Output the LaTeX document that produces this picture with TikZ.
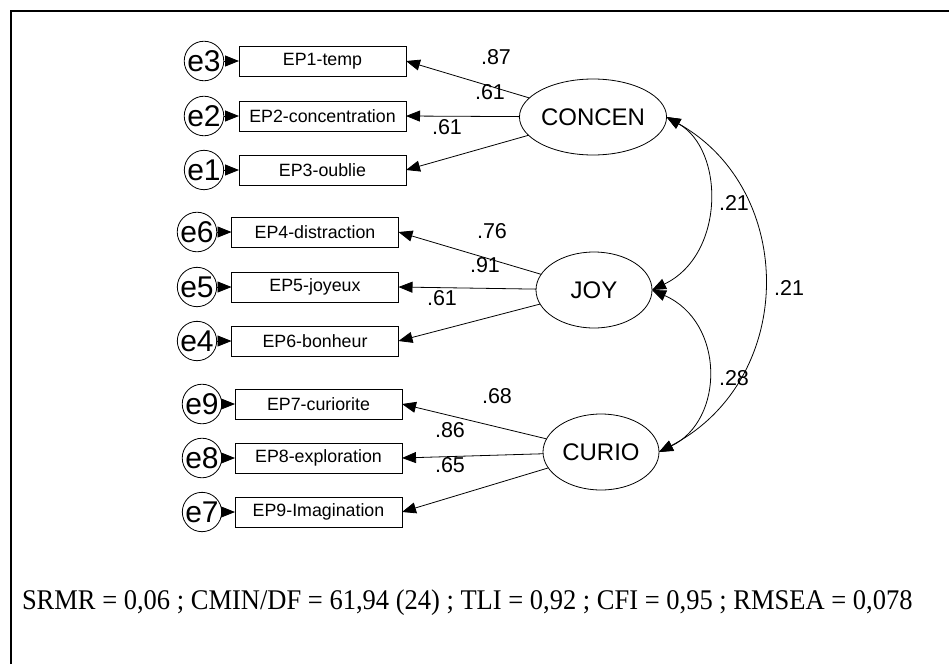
\documentclass[tikz,border=0pt]{standalone}
\usepackage{fontspec}
\setmainfont[FakeStretch=0.93]{Liberation Serif}
\newfontfamily\arialf{Liberation Sans}
\usetikzlibrary{shapes.geometric,arrows.meta}
\begin{document}
\begin{tikzpicture}[x=1pt,y=-1pt,
  every node/.style={inner sep=0pt, outer sep=0pt},
  obs/.style={draw, line width=0.8pt, minimum width=167pt, minimum height=30pt, font=\arialf\fontsize{17.8}{20}\selectfont},
  err/.style={draw, circle, line width=0.8pt, minimum size=38pt, font=\arialf\fontsize{30}{32}\selectfont},
  lat/.style={draw, ellipse, line width=0.8pt, minimum width=116pt, minimum height=76pt, font=\arialf\fontsize{24}{28}\selectfont},
  coef/.style={font=\arialf\fontsize{21.5}{24}\selectfont},
  arr/.style={-{Triangle[length=14pt,width=11pt]}, line width=0.8pt},
  dbl/.style={{Triangle[length=14pt,width=11pt]}-{Triangle[length=14pt,width=11pt]}, line width=0.8pt}
]
\useasboundingbox (0,0) rectangle (949,664);
\draw[line width=2.5pt] (11,664) -- (11,11) -- (949,11);

% observed boxes
\node[obs] (ep1) at (322.5,61) {EP1-temp};
\node[obs] (ep2) at (322.5,116) {EP2-concentration};
\node[obs] (ep3) at (322.5,170) {EP3-oublie};
\node[obs] (ep4) at (315,232) {EP4-distraction};
\node[obs] (ep5) at (315,287) {EP5-joyeux};
\node[obs] (ep6) at (315,341) {EP6-bonheur};
\node[obs] (ep7) at (318.5,404) {EP7-curiorite};
\node[obs] (ep8) at (318.5,458) {EP8-exploration};
\node[obs] (ep9) at (318.5,512) {EP9-Imagination};

% errors
\node[err] (e3) at (204,61) {e3};
\node[err] (e2) at (204,116) {e2};
\node[err] (e1) at (204,170) {e1};
\node[err] (e6) at (197,232) {e6};
\node[err] (e5) at (197,287) {e5};
\node[err] (e4) at (197,341) {e4};
\node[err] (e9) at (202,404) {e9};
\node[err] (e8) at (202,458) {e8};
\node[err] (e7) at (202,512) {e7};

\draw[arr] (e3) -- (ep1);
\draw[arr] (e2) -- (ep2);
\draw[arr] (e1) -- (ep3);
\draw[arr] (e6) -- (ep4);
\draw[arr] (e5) -- (ep5);
\draw[arr] (e4) -- (ep6);
\draw[arr] (e9) -- (ep7);
\draw[arr] (e8) -- (ep8);
\draw[arr] (e7) -- (ep9);

% latent
\node[lat] (concen) at (593,117) {CONCEN};
\node[lat] (joy) at (594,290) {JOY};
\node[lat] (curio) at (601,452) {CURIO};

\draw[arr] (concen) -- (ep1.east);
\draw[arr] (concen) -- (ep2.east);
\draw[arr] (concen) -- (ep3.east);
\draw[arr] (joy) -- (ep4.east);
\draw[arr] (joy) -- (ep5.east);
\draw[arr] (joy) -- (ep6.east);
\draw[arr] (curio) -- (ep7.east);
\draw[arr] (curio) -- (ep8.east);
\draw[arr] (curio) -- (ep9.east);

% loadings
\node[coef] (l1) at (496,57) {.87};
\node[coef] (l2) at (490,92) {.61};
\node[coef] (l3) at (447,127) {.61};
\node[coef] (l4) at (492,231) {.76};
\node[coef] (l5) at (485,265) {.91};
\node[coef] (l6) at (442,298) {.61};
\node[coef] (l7) at (497,396) {.68};
\node[coef] (l8) at (450,430) {.86};
\node[coef] (l9) at (450,465) {.65};

% covariances
\draw[dbl] (concen.east) .. controls (725,150) and (725,255) .. (joy.east);
\draw[dbl] (joy.east) .. controls (725,322) and (725,420) .. (curio.east);
\draw[dbl] (concen.east) .. controls (797,190) and (797,380) .. (curio.east);
\node[coef] (c1) at (734,203) {.21};
\node[coef] (c2) at (789,288) {.21};
\node[coef] (c3) at (734,378) {.28};

\node[anchor=west, font=\fontsize{28.5}{32}\selectfont] (fit) at (22,603) {SRMR = 0,06 ; CMIN/DF = 61,94 (24) ; TLI = 0,92 ; CFI = 0,95 ; RMSEA = 0,078};
\end{tikzpicture}
\end{document}
